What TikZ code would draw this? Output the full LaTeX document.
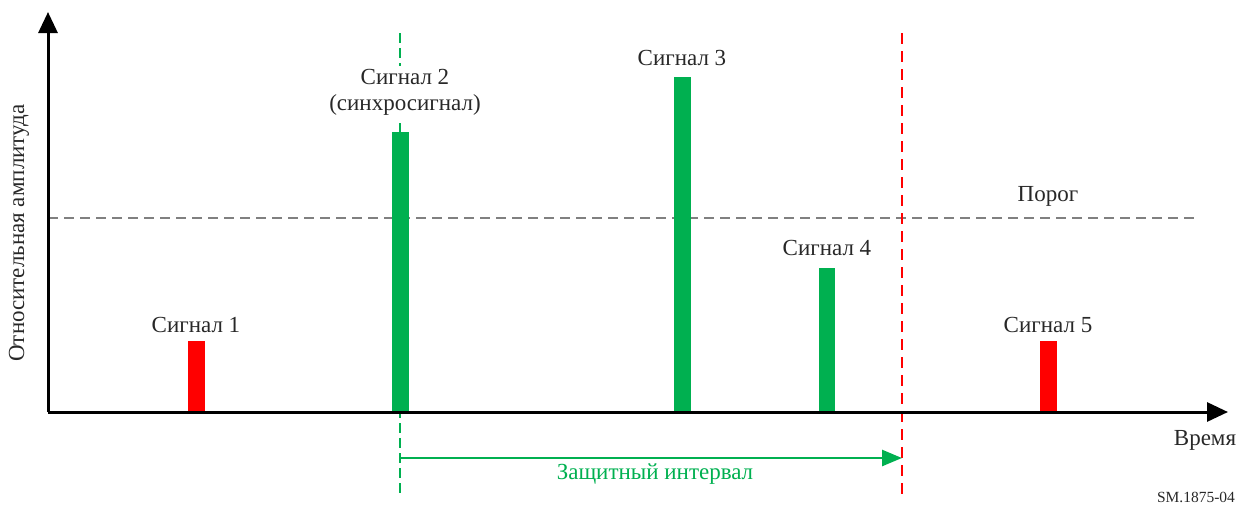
\documentclass[tikz,border=0pt]{standalone}
\usepackage{fontspec}
\setmainfont{Liberation Serif}
\usetikzlibrary{arrows.meta}
\definecolor{sgreen}{RGB}{0,176,80}
\definecolor{sred}{RGB}{255,0,0}
\definecolor{sgray}{RGB}{128,128,128}
\definecolor{stext}{RGB}{40,40,40}
\tikzset{
  axisline/.style={line width=3pt, -{Triangle[length=21pt,width=19pt]}},
  bargreen/.style={fill=sgreen},
  barred/.style={fill=sred},
  lbl/.style={text=stext, font=\fontsize{23}{26}\selectfont, inner sep=1pt},
  gline/.style={sgreen, line width=2.8pt, dash pattern=on 10pt off 5pt},
  rline/.style={sred, line width=2.8pt, dash pattern=on 11pt off 7pt},
  thr/.style={sgray, line width=2.8pt, dash pattern=on 10pt off 6pt},
}
\begin{document}
\begin{tikzpicture}[x=1pt,y=-1pt]
\useasboundingbox (0,0) rectangle (1245,507);
% coordinates
\coordinate (o) at (48,412);
\coordinate (ytop) at (48,12);
\coordinate (xend) at (1228,412);
\coordinate (thrA) at (48,218);
\coordinate (thrB) at (1198,218);
\coordinate (gTop) at (400,33);
\coordinate (gBot) at (400,495);
\coordinate (rTop) at (902,33);
\coordinate (rBot) at (902,495);
\coordinate (aStart) at (400,458);
\coordinate (aEnd) at (902,458);
% threshold
\draw[thr] (thrA) -- (thrB);
% vertical dashed lines
\draw[gline] (gTop) -- (gBot);
\draw[rline] (rTop) -- (rBot);
% bars
\fill[barred] (188,341) rectangle (205,412);
\fill[bargreen] (391.5,132) rectangle (408.5,412);
\fill[bargreen] (674,77) rectangle (691,412);
\fill[bargreen] (819,268) rectangle (835,412);
\fill[barred] (1040,341) rectangle (1057,412);
% axes
\draw[axisline] (o) -- (ytop);
\draw[axisline] (o) -- (xend);
% guard interval arrow
\draw[sgreen, line width=2.6pt, -{Triangle[length=20pt,width=16pt]}] (gBot |- aStart) -- (aEnd);
% labels
\node[lbl] (s1) at (196,325) {Сигнал 1};
\node[lbl, fill=white, align=center, inner sep=3pt] (s2) at (405,92) {Сигнал 2\\(синхросигнал)};
\node[lbl] (s3) at (682,58) {Сигнал 3};
\node[lbl] (s4) at (827,248) {Сигнал 4};
\node[lbl] (s5) at (1048,325) {Сигнал 5};
\node[lbl] (thrlbl) at (1048,196) {Порог};
\node[lbl] (time) at (1205,440) {Время};
\node[lbl, text=sgreen] (gi) at (655,474) {Защитный интервал};
\node[lbl, rotate=90] (ylbl) at (19,233) {Относительная амплитуда};
\node[text=stext, font=\fontsize{15.5}{18}\selectfont, inner sep=1pt] (sm) at (1196,497) {SM.1875-04};
\end{tikzpicture}
\end{document}
